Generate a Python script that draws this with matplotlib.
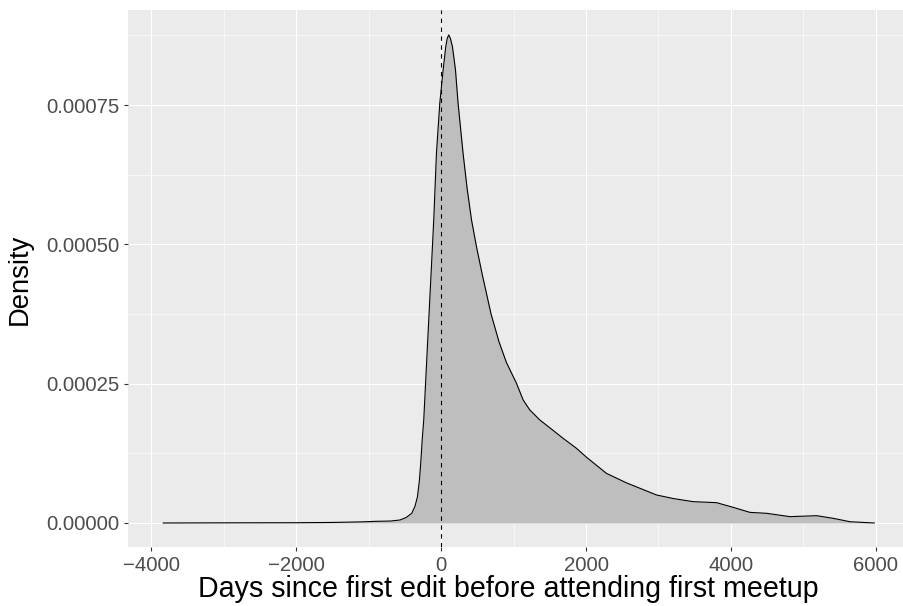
import matplotlib
matplotlib.use("Agg")
import matplotlib.pyplot as plt
from matplotlib.ticker import FixedLocator, FuncFormatter

# === DADOS: densidade estimada (dias desde a primeira edição) ===
dias = [-3834, -3000, -2000, -1500, -1100, -900, -700, -566, -480, -405,
        -360, -326, -300, -281, -260, -239, -193, -147, -101, -64,
        -18, 28, 65, 85, 106, 128, 157, 199, 235, 304,
        360, 420, 490, 570, 690, 800, 902, 1040, 1132, 1224,
        1362, 1500, 1684, 1869, 2007, 2283, 2559, 2973, 3200, 3478,
        3801, 4031, 4261, 4492, 4814, 5182, 5411, 5641, 5977]
densidade = [0.0, 3e-7, 5e-7, 1e-6, 2e-6, 3e-6, 3.5e-6, 5.4e-6, 1.0e-5, 1.74e-5,
             3.0e-5, 4.7e-5, 7.5e-5, 1.07e-4, 1.5e-4, 1.85e-4, 3.05e-4, 4.24e-4, 5.44e-4, 6.63e-4,
             7.53e-4, 8.13e-4, 8.55e-4, 8.7e-4, 8.76e-4, 8.7e-4, 8.55e-4, 8.13e-4, 7.53e-4, 6.63e-4,
             6.0e-4, 5.44e-4, 4.95e-4, 4.45e-4, 3.75e-4, 3.25e-4, 2.88e-4, 2.51e-4, 2.21e-4, 2.03e-4,
             1.85e-4, 1.71e-4, 1.52e-4, 1.34e-4, 1.18e-4, 8.9e-5, 7.2e-5, 5.03e-5, 4.4e-5, 3.83e-5,
             3.65e-5, 2.81e-5, 1.91e-5, 1.74e-5, 1.14e-5, 1.31e-5, 8.4e-6, 2.3e-6, 0.0]

xticks = [-4000, -2000, 0, 2000, 4000, 6000]
xminor = [-3000, -1000, 1000, 3000, 5000]
yticks = [0.0, 0.00025, 0.0005, 0.00075]
yminor = [0.000125, 0.000375, 0.000625, 0.000875]

# === ESTILO (parecido com theme_gray) ===
plt.rcParams['font.family'] = ['Liberation Sans', 'DejaVu Sans']

fig = plt.figure(figsize=(9.04, 6.06), dpi=100)
ax = fig.add_axes([0.1416, 0.0967, 0.8584, 0.8861])
ax.set_facecolor('#EBEBEB')
for s in ax.spines.values():
    s.set_visible(False)

ax.set_xlim(-4320, 6388)
ax.set_ylim(-0.0000438, 0.00092)

ax.xaxis.set_major_locator(FixedLocator(xticks))
ax.xaxis.set_minor_locator(FixedLocator(xminor))
ax.yaxis.set_major_locator(FixedLocator(yticks))
ax.yaxis.set_minor_locator(FixedLocator(yminor))
ax.xaxis.set_major_formatter(FuncFormatter(lambda v, p: f"{v:.0f}".replace('-', '\u2212')))
ax.yaxis.set_major_formatter(FuncFormatter(lambda v, p: f"{v:.5f}"))

ax.grid(which='major', color='white', linewidth=0.8)
ax.grid(which='minor', color='white', linewidth=0.4)
ax.set_axisbelow(True)

ax.tick_params(which='major', length=2.8, width=0.8, color='#333333',
               labelsize=14.7, labelcolor='#4D4D4D', pad=3.2)
ax.tick_params(which='minor', length=0)

# === CURVA DE DENSIDADE ===
ax.fill_between(dias, densidade, 0, color='#BEBEBE', linewidth=0, zorder=2)
ax.plot(dias, densidade, color='black', linewidth=0.8, zorder=3)
ax.axvline(0, color='black', linewidth=0.8, linestyle=(0, (4, 4)), zorder=4)

ax.set_xlabel("Days since first edit before attending first meetup", fontsize=20.6)
ax.set_ylabel("Density", fontsize=19.7)
ax.xaxis.label.set_va('baseline')
ax.xaxis.set_label_coords(0.49, -0.0924)
ax.yaxis.set_label_coords(-0.1223, 0.5)

fig.savefig("out.png", dpi=100)
